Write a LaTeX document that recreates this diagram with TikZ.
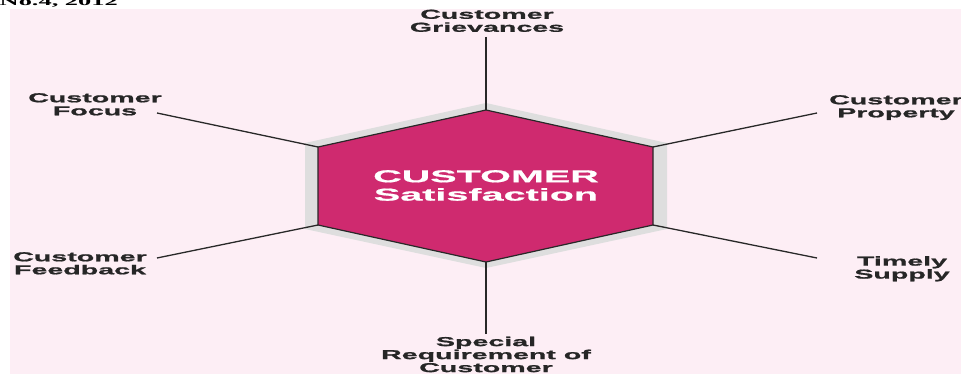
\documentclass[tikz,border=0pt]{standalone}
\usepackage{fontspec}
\setmainfont{Liberation Serif}
\newfontfamily\hdrfont[FakeStretch=2.2]{Liberation Serif}
\newfontfamily\lblfont[FakeStretch=2.2, FakeBold=1.2]{Liberation Sans}
\newfontfamily\hexfont[FakeStretch=2.3, FakeBold=0.8]{Liberation Sans}
\usetikzlibrary{calc}
\definecolor{bgpink}{RGB}{253,238,245}
\definecolor{hexred}{RGB}{207,42,111}
\definecolor{hexgray}{RGB}{222,222,222}
\definecolor{spokegray}{RGB}{40,40,40}
\tikzset{>=latex}
\tikzset{
lbl/.style={font=\lblfont\bfseries\fontsize{13}{13}\selectfont, text=black!85, align=center, inner sep=0pt, anchor=north},
spoke/.style={draw=spokegray, line width=1.3pt}
}

\begin{document}
\begin{tikzpicture}[x=1pt,y=-1pt]
\useasboundingbox (0,0) rectangle (961,374);
\fill[bgpink] (10,9) rectangle (961,374);
\node[anchor=base east, inner sep=0pt, font=\hdrfont\bfseries\fontsize{12}{12}\selectfont] (issue) at (118,5.5) {No.4, 2012};

% hexagon corners
\coordinate (ht) at (486,110);
\coordinate (hur) at (653,147);
\coordinate (hlr) at (653,225);
\coordinate (hb) at (486,262);
\coordinate (hll) at (318,225);
\coordinate (hul) at (318,147);
\fill[hexgray] (486,103) -- (667,143) -- (667,229) -- (486,268) -- (305,229) -- (305,143) -- cycle;
\filldraw[fill=hexred, draw=spokegray, line width=1.2pt] (ht) -- (hur) -- (hlr) -- (hb) -- (hll) -- (hul) -- cycle;
\node[font=\hexfont\bfseries\fontsize{17.2}{18.4}\selectfont, text=white, align=center, inner sep=0pt, anchor=north] (hub) at (486,170) {CUSTOMER\\Satisfaction};

% labels
\node[lbl] (grievances) at (487,9.5) {Customer\\Grievances};
\node[lbl] (focus) at (95,93) {Customer\\Focus};
\node[lbl] (feedback) at (80,252) {Customer\\Feedback};
\node[lbl] (property) at (896,95) {Customer\\Property};
\node[lbl] (supply) at (902,256) {Timely\\Supply};
\node[lbl] (special) at (486,336.5) {Special\\Requirement of\\Customer};

% free ends of the spokes
\coordinate (egrievances) at (486,37);
\coordinate (efocus) at (157,113);
\coordinate (efeedback) at (157,258);
\coordinate (eproperty) at (817,113);
\coordinate (esupply) at (817,258);
\coordinate (especial) at (486,334);

\draw[spoke]
(egrievances) edge (ht)
(efocus) edge (hul)
(efeedback) edge (hll)
(eproperty) edge (hur)
(esupply) edge (hlr)
(especial) edge (hb);
\end{tikzpicture}
\end{document}
